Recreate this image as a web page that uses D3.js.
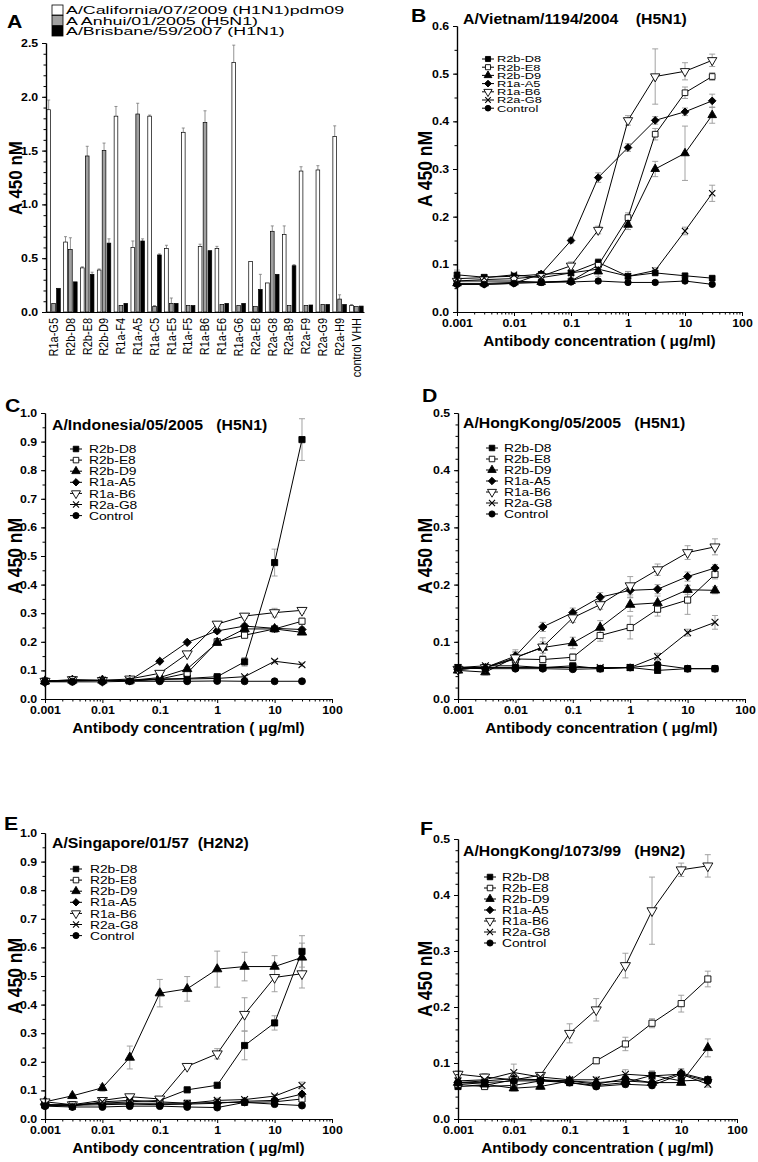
<!DOCTYPE html>
<html><head><meta charset="utf-8">
<script src="https://cdn.jsdelivr.net/npm/d3@7"></script>
<style>
body{margin:0;background:#fff}
svg{display:block}
text{font-family:"Liberation Sans",Arial,Helvetica,sans-serif;fill:#000}
</style>
</head><body>
<svg id="chart" width="758" height="1162"></svg>
<script>
// ---------- Panel A data ----------
const barCategories = ["R1a-G5","R2b-D8","R2b-E8","R2b-D9","R1a-F4","R1a-A5","R1a-C5","R1a-E5","R1a-F5","R1a-B6","R1a-E6","R1a-G6","R2a-E8","R2a-G8","R2a-B9","R2a-F9","R2a-G9","R2a-H9","control VHH"];
const barSeries = ["A/California/07/2009 (H1N1)pdm09","A Anhui/01/2005 (H5N1)","A/Brisbane/59/2007 (H1N1)"];
const barCalifornia = [1.88,0.65,0.41,0.39,1.82,0.60,1.82,0.59,1.67,0.61,0.59,2.32,0.47,0.27,0.72,1.31,1.32,1.63,0.06];
const barAnhui      = [0.08,0.58,1.45,1.50,0.06,1.84,0.05,0.08,0.06,1.76,0.07,0.06,0.05,0.75,0.06,0.06,0.07,0.12,0.05];
const barBrisbane   = [0.22,0.28,0.35,0.64,0.08,0.66,0.53,0.08,0.06,0.57,0.08,0.08,0.21,0.35,0.43,0.065,0.07,0.07,0.055];
const barCaliforniaErr = [0.09,0.05,0.01,0.01,0.09,0.06,0.01,0.03,0.04,0.02,0.02,0.16,0.0,0.0,0.08,0.04,0.04,0.10,0.01];
const barAnhuiErr      = [0.0,0.11,0.09,0.07,0.0,0.10,0.01,0.05,0.0,0.11,0.0,0.0,0.0,0.05,0.0,0.0,0.0,0.04,0.0];
const barBrisbaneErr   = [0.0,0.0,0.02,0.04,0.0,0.02,0.01,0.0,0.0,0.0,0.0,0.0,0.14,0.0,0.01,0.0,0.0,0.0,0.0];
const barTicks = [0.0,0.5,1.0,1.5,2.0,2.5];

// ---------- Dose-response data ----------
const concentrations = [0.001,0.003,0.01,0.03,0.1,0.3,1,3,10,30];
const antibodies = ["R2b-D8","R2b-E8","R2b-D9","R1a-A5","R1a-B6","R2a-G8","Control"];
const concTicks = [0.001,0.01,0.1,1,10,100];

// B: A/Vietnam/1194/2004 (H5N1)
const vietnamMeans = [
  [0.078,0.073,0.075,0.079,0.082,0.104,0.075,0.082,0.076,0.071],
  [0.065,0.065,0.065,0.062,0.065,0.098,0.198,0.373,0.460,0.494],
  [0.060,0.060,0.062,0.063,0.065,0.085,0.183,0.300,0.333,0.413],
  [0.058,0.058,0.060,0.080,0.150,0.282,0.345,0.402,0.420,0.443],
  [0.065,0.068,0.070,0.075,0.097,0.172,0.402,0.494,0.505,0.528],
  [0.070,0.072,0.078,0.072,0.082,0.090,0.075,0.087,0.170,0.249],
  [0.058,0.058,0.060,0.062,0.063,0.065,0.062,0.062,0.065,0.058]];
const vietnamErrs = [
  [0.010,0.005,0.005,0.005,0.005,0.008,0.010,0.005,0.005,0.004],
  [0.005,0.005,0.005,0.004,0.005,0.010,0.010,0.012,0.012,0.008],
  [0.004,0.004,0.004,0.004,0.005,0.010,0.010,0.016,0.057,0.017],
  [0.004,0.004,0.004,0.005,0.005,0.010,0.008,0.008,0.008,0.014],
  [0.004,0.004,0.004,0.004,0.008,0.008,0.010,0.058,0.018,0.013],
  [0.004,0.004,0.004,0.004,0.005,0.008,0.010,0.006,0.008,0.017],
  [0.004,0.004,0.004,0.004,0.004,0.004,0.004,0.004,0.004,0.004]];
const vietnamTicks = [0,0.1,0.2,0.3,0.4,0.5,0.6];

// C: A/Indonesia/05/2005 (H5N1)
const indonesiaMeans = [
  [0.062,0.065,0.065,0.065,0.070,0.072,0.078,0.130,0.477,0.907],
  [0.062,0.065,0.065,0.065,0.070,0.090,0.200,0.223,0.245,0.272],
  [0.062,0.065,0.065,0.065,0.075,0.105,0.197,0.245,0.245,0.233],
  [0.062,0.063,0.065,0.065,0.132,0.198,0.238,0.255,0.247,0.243],
  [0.062,0.068,0.065,0.070,0.090,0.158,0.262,0.290,0.302,0.310],
  [0.062,0.065,0.065,0.063,0.068,0.070,0.072,0.078,0.132,0.120],
  [0.060,0.060,0.060,0.062,0.062,0.062,0.063,0.062,0.062,0.062]];
const indonesiaErrs = [
  [0.004,0.004,0.004,0.004,0.005,0.005,0.006,0.015,0.047,0.073],
  [0.004,0.004,0.004,0.004,0.005,0.006,0.008,0.008,0.008,0.010],
  [0.004,0.004,0.004,0.004,0.005,0.006,0.008,0.008,0.008,0.008],
  [0.004,0.004,0.004,0.004,0.005,0.006,0.008,0.008,0.008,0.008],
  [0.004,0.004,0.004,0.004,0.005,0.006,0.008,0.008,0.015,0.010],
  [0.004,0.004,0.004,0.004,0.004,0.004,0.004,0.004,0.006,0.006],
  [0.003,0.003,0.003,0.003,0.003,0.003,0.003,0.003,0.003,0.003]];
const indonesiaTicks = [0,0.1,0.2,0.3,0.4,0.5,0.6,0.7,0.8,0.9,1.0];

// D: A/HongKong/05/2005 (H5N1)
const hongkongMeans = [
  [0.055,0.055,0.055,0.055,0.058,0.053,0.055,0.050,0.053,0.053],
  [0.052,0.055,0.070,0.069,0.073,0.111,0.125,0.157,0.173,0.218],
  [0.050,0.047,0.073,0.090,0.098,0.125,0.165,0.168,0.191,0.190],
  [0.052,0.055,0.075,0.126,0.151,0.178,0.190,0.192,0.214,0.229],
  [0.052,0.055,0.072,0.091,0.142,0.165,0.198,0.226,0.256,0.266],
  [0.055,0.058,0.058,0.055,0.055,0.055,0.055,0.074,0.116,0.134],
  [0.054,0.053,0.053,0.053,0.052,0.053,0.055,0.060,0.053,0.053]];
const hongkongErrs = [
  [0.004,0.004,0.003,0.003,0.003,0.003,0.003,0.003,0.003,0.003],
  [0.004,0.004,0.006,0.006,0.006,0.010,0.020,0.012,0.025,0.008],
  [0.005,0.005,0.008,0.010,0.010,0.012,0.012,0.012,0.008,0.006],
  [0.004,0.004,0.008,0.008,0.008,0.008,0.012,0.008,0.008,0.006],
  [0.004,0.004,0.014,0.016,0.008,0.008,0.016,0.010,0.012,0.014],
  [0.003,0.003,0.003,0.003,0.003,0.003,0.003,0.006,0.006,0.012],
  [0.003,0.003,0.003,0.003,0.003,0.003,0.003,0.003,0.003,0.003]];
const hongkongTicks = [0,0.1,0.2,0.3,0.4,0.5];

// E: A/Singapore/01/57 (H2N2)
const singaporeMeans = [
  [0.048,0.050,0.055,0.060,0.065,0.102,0.118,0.257,0.336,0.586],
  [0.050,0.050,0.055,0.055,0.055,0.055,0.058,0.058,0.060,0.070],
  [0.060,0.081,0.109,0.215,0.440,0.455,0.524,0.533,0.533,0.565],
  [0.048,0.048,0.050,0.052,0.050,0.052,0.055,0.062,0.065,0.087],
  [0.060,0.050,0.065,0.078,0.070,0.184,0.228,0.366,0.495,0.508],
  [0.050,0.045,0.060,0.065,0.060,0.055,0.065,0.068,0.080,0.117],
  [0.045,0.042,0.042,0.045,0.045,0.042,0.040,0.058,0.052,0.047]];
const singaporeErrs = [
  [0.005,0.005,0.005,0.005,0.005,0.006,0.008,0.050,0.025,0.055],
  [0.005,0.005,0.005,0.005,0.005,0.005,0.005,0.005,0.005,0.008],
  [0.008,0.006,0.012,0.040,0.048,0.043,0.063,0.050,0.038,0.050],
  [0.004,0.004,0.004,0.004,0.004,0.004,0.004,0.004,0.005,0.008],
  [0.006,0.005,0.006,0.006,0.006,0.008,0.018,0.058,0.050,0.050],
  [0.004,0.004,0.004,0.004,0.004,0.004,0.008,0.006,0.006,0.012],
  [0.004,0.004,0.004,0.004,0.004,0.004,0.004,0.004,0.004,0.004]];
const singaporeTicks = [0,0.1,0.2,0.3,0.4,0.5,0.6,0.7,0.8,0.9,1.0];

// F: A/HongKong/1073/99 (H9N2)
const hk1073Means = [
  [0.058,0.060,0.070,0.070,0.065,0.060,0.065,0.078,0.068,0.070],
  [0.062,0.058,0.060,0.068,0.068,0.104,0.134,0.171,0.206,0.250],
  [0.065,0.062,0.055,0.058,0.068,0.065,0.068,0.065,0.065,0.127],
  [0.065,0.068,0.072,0.070,0.068,0.062,0.072,0.065,0.082,0.070],
  [0.080,0.075,0.070,0.078,0.153,0.195,0.274,0.372,0.445,0.452],
  [0.068,0.070,0.083,0.075,0.070,0.070,0.080,0.077,0.080,0.062],
  [0.065,0.065,0.068,0.068,0.065,0.058,0.062,0.060,0.080,0.068]];
const hk1073Errs = [
  [0.005,0.005,0.006,0.005,0.005,0.005,0.005,0.008,0.006,0.005],
  [0.005,0.005,0.005,0.005,0.005,0.005,0.012,0.008,0.015,0.014],
  [0.005,0.005,0.005,0.005,0.005,0.005,0.005,0.005,0.005,0.016],
  [0.005,0.005,0.005,0.005,0.005,0.005,0.005,0.005,0.008,0.005],
  [0.006,0.006,0.006,0.005,0.017,0.020,0.022,0.060,0.012,0.020],
  [0.005,0.005,0.015,0.006,0.005,0.005,0.008,0.008,0.008,0.005],
  [0.005,0.005,0.005,0.005,0.005,0.005,0.005,0.005,0.005,0.005]];
const hk1073Ticks = [0,0.1,0.2,0.3,0.4,0.5];

// ---------- drawing ----------
const svg = d3.select("#chart");
const FONT = '"Liberation Sans",Arial,Helvetica,sans-serif';
const SX = 1.12; // horizontal stretch of the original figure's lettering

function addText(g, x, y, str, opts){
  const o = Object.assign({size:"12px", weight:"normal", anchor:"start", sx:SX, rot:0, dy:null}, opts||{});
  const t = g.append("text")
    .attr("transform", `translate(${x},${y}) scale(${o.sx},1)` + (o.rot?` rotate(${o.rot})`:""))
    .attr("font-size", o.size).attr("font-weight", o.weight).attr("text-anchor", o.anchor)
    .style("white-space","pre").text(str);
  if (o.dy) t.attr("dy", o.dy);
  return t;
}

function styleAxis(g, fs){
  g.selectAll("path.domain").attr("stroke","#000").attr("stroke-width",1.2);
  g.selectAll(".tick line").attr("stroke","#000").attr("stroke-width",1);
  g.selectAll(".tick text").attr("font-family",FONT).attr("font-weight","bold").attr("font-size",fs).attr("fill","#000");
}

// ---- Panel A ----
(function(){
  const left=46, right=364, top=43, bottom=312;
  const x = d3.scaleBand().domain(barCategories).range([left,right]).paddingInner(0.2).paddingOuter(0.05);
  const xi = d3.scaleBand().domain(barSeries).range([0,x.bandwidth()]).paddingInner(0.25);
  const y = d3.scaleLinear().domain([0,2.5]).range([bottom,top]);
  const g = svg.append("g");
  const fills = ["#ffffff","#a0a0a0","#000000"];
  const vals = [barCalifornia, barAnhui, barBrisbane];
  const errs = [barCaliforniaErr, barAnhuiErr, barBrisbaneErr];
  barSeries.forEach((s,si)=>{
    const data = barCategories.map((c,i)=>({c, v:vals[si][i], e:errs[si][i]}));
    const cx = d=>x(d.c)+xi(s)+xi.bandwidth()/2;
    g.selectAll(null).data(data.filter(d=>d.e>0)).enter().append("line")
      .attr("x1",cx).attr("x2",cx)
      .attr("y1",d=>y(d.v)).attr("y2",d=>y(d.v+d.e)).attr("stroke","#777").attr("stroke-width",0.8);
    g.selectAll(null).data(data.filter(d=>d.e>0)).enter().append("line")
      .attr("x1",d=>cx(d)-1.5).attr("x2",d=>cx(d)+1.5)
      .attr("y1",d=>y(d.v+d.e)).attr("y2",d=>y(d.v+d.e)).attr("stroke","#777").attr("stroke-width",0.8);
    g.selectAll(null).data(data).enter().append("rect")
      .attr("x",d=>x(d.c)+xi(s)).attr("width",xi.bandwidth())
      .attr("y",d=>y(d.v)).attr("height",d=>y(0)-y(d.v))
      .attr("fill",fills[si]).attr("stroke","#000").attr("stroke-width",0.7);
  });
  const ya = g.append("g").attr("transform",`translate(${left},0)`)
    .call(d3.axisLeft(y).tickValues(barTicks).tickFormat(d3.format(".1f")).tickSize(4).tickSizeOuter(0));
  styleAxis(ya,"11px");
  ya.selectAll(".tick text").attr("transform",`scale(${SX},1)`);
  const yminor = g.append("g").attr("transform",`translate(${left},0)`)
    .call(d3.axisLeft(y).tickValues(d3.range(0,26).map(i=>i/10)).tickFormat("").tickSize(2.5).tickSizeOuter(0));
  styleAxis(yminor,"0px");
  const xa = g.append("g").attr("transform",`translate(0,${bottom})`)
    .call(d3.axisBottom(x).tickSize(0).tickSizeOuter(0));
  styleAxis(xa,"11px");
  xa.selectAll(".tick text").attr("font-weight","normal").attr("transform",`scale(${SX},1) rotate(-90)`)
    .attr("text-anchor","end").attr("dx","-6px").attr("dy","0.35em").attr("y",0).attr("x",0);
  // legend
  barSeries.forEach((s,i)=>{
    g.append("rect").attr("x",52).attr("y",5+i*10.5).attr("width",11).attr("height",10)
      .attr("fill",fills[i]).attr("stroke","#000").attr("stroke-width",0.8);
    addText(g, 66, 14+i*10.5, s, {size:"11.5px", sx:1.55});
  });
  addText(g, 22, 178, "A 450 nM", {size:"17px", weight:"bold", anchor:"middle", rot:-90});
  addText(g, 7, 28, "A", {size:"19px", weight:"bold"});
})();

// ---- dose-response panels ----
const symbolDefs = [
  {type:d3.symbolSquare, size:38, fill:"#000", rot:0},
  {type:d3.symbolSquare, size:38, fill:"#fff", rot:0},
  {type:d3.symbolTriangle, size:38, fill:"#000", rot:0},
  {type:d3.symbolSquare, size:34, fill:"#000", rot:45},
  {type:d3.symbolTriangle, size:44, fill:"#fff", rot:180},
  {type:d3.symbolTimes, size:32, fill:"none", rot:0},
  {type:d3.symbolCircle, size:38, fill:"#000", rot:0}
];

function drawMarker(g, cx, cy, k, scale){
  const s = symbolDefs[k];
  g.append("path").attr("d", d3.symbol().type(s.type).size(s.size*scale)())
    .attr("transform",`translate(${cx},${cy}) rotate(${s.rot})`)
    .attr("fill",s.fill).attr("stroke","#000").attr("stroke-width",s.type===d3.symbolTimes?1.1:0.9);
}

function linePanel(cfg){
  const {x0,x1,y0,y1,ticks,means,errs,title,letter} = cfg;
  const ymax = ticks[ticks.length-1];
  const x = d3.scaleLog().domain([0.001,100]).range([x0,x1]);
  const y = d3.scaleLinear().domain([0,ymax]).range([y1,y0]);
  const g = svg.append("g");
  const ms = cfg.markerScale||1;
  // error bars
  means.forEach((ser,k)=>{
    ser.forEach((v,i)=>{
      const e = errs[k][i], cx = x(concentrations[i]);
      g.append("line").attr("x1",cx).attr("x2",cx).attr("y1",y(v-e)).attr("y2",y(v+e)).attr("stroke","#999").attr("stroke-width",0.9);
      [v-e,v+e].forEach(t=>g.append("line").attr("x1",cx-3).attr("x2",cx+3).attr("y1",y(t)).attr("y2",y(t)).attr("stroke","#999").attr("stroke-width",0.9));
    });
  });
  // lines
  const line = d3.line().x((d,i)=>x(concentrations[i])).y(d=>y(d));
  means.forEach(ser=>{
    g.append("path").attr("d",line(ser)).attr("fill","none").attr("stroke","#000").attr("stroke-width",1);
  });
  // markers
  means.forEach((ser,k)=>{
    ser.forEach((v,i)=>drawMarker(g, x(concentrations[i]), y(v), k, ms));
  });
  // axes
  const xa = g.append("g").attr("transform",`translate(0,${y1})`)
    .call(d3.axisBottom(x).tickValues(concTicks).tickFormat(d=>String(d)).tickSize(4).tickSizeOuter(0));
  styleAxis(xa,"11px");
  xa.selectAll(".tick text").attr("transform",`scale(${SX},1)`);
  const minors = [];
  [0.001,0.01,0.1,1,10].forEach(d=>{for(let m=2;m<=9;m++) minors.push(d*m);});
  const xm = g.append("g").attr("transform",`translate(0,${y1})`)
    .call(d3.axisBottom(x).tickValues(minors).tickFormat("").tickSize(2.5).tickSizeOuter(0));
  styleAxis(xm,"0px");
  const ya = g.append("g").attr("transform",`translate(${x0},0)`)
    .call(d3.axisLeft(y).tickValues(ticks).tickFormat(d3.format(".1f")).tickSize(4).tickSizeOuter(0));
  styleAxis(ya,"11px");
  ya.selectAll(".tick text").attr("transform",`scale(${SX},1)`);
  const minorStep = cfg.minorStep;
  const ymin = d3.range(0, Math.round(ymax/minorStep)+1).map(i=>i*minorStep);
  const ym = g.append("g").attr("transform",`translate(${x0},0)`)
    .call(d3.axisLeft(y).tickValues(ymin).tickFormat("").tickSize(2.5).tickSizeOuter(0));
  styleAxis(ym,"0px");
  // titles
  addText(g, cfg.titleX, cfg.titleY, title, {size:"14px", weight:"bold", sx:1.13});
  addText(g, cfg.yTitleX, (y0+y1)/2, "A 450 nM", {size:"17.5px", weight:"bold", anchor:"middle", rot:-90});
  addText(g, (x0+x1)/2, y1+34, "Antibody concentration ( \u03bcg/ml)", {size:"14px", weight:"bold", anchor:"middle", sx:1.1});
  addText(g, cfg.letterX, cfg.letterY, letter, {size:"19px", weight:"bold"});
  // legend
  antibodies.forEach((a,k)=>{
    const ly = cfg.legY + k*cfg.legDy;
    g.append("line").attr("x1",cfg.legX-6).attr("x2",cfg.legX+6).attr("y1",ly).attr("y2",ly).attr("stroke","#000").attr("stroke-width",1);
    drawMarker(g, cfg.legX, ly, k, ms*0.8);
    addText(g, cfg.legX+cfg.legGap, ly, a, {size:cfg.legFont, sx:cfg.legSx, dy:"0.36em"});
  });
}

linePanel({x0:457,x1:742,y0:26,y1:312,ticks:vietnamTicks,minorStep:0.05,means:vietnamMeans,errs:vietnamErrs,
  title:"A/Vietnam/1194/2004    (H5N1)",titleX:463,titleY:24,letter:"B",letterX:411,letterY:22,yTitleX:432,
  legX:488,legY:59,legDy:8.2,legFont:"9.5px",legSx:1.35,legGap:9,markerScale:0.85});
linePanel({x0:45,x1:332,y0:413,y1:699,ticks:indonesiaTicks,minorStep:0.05,means:indonesiaMeans,errs:indonesiaErrs,
  title:"A/Indonesia/05/2005   (H5N1)",titleX:52,titleY:430,letter:"C",letterX:5,letterY:412,yTitleX:22,
  legX:76,legY:449,legDy:11.1,legFont:"11.5px",legSx:1.2,legGap:13});
linePanel({x0:458,x1:745,y0:413,y1:699,ticks:hongkongTicks,minorStep:0.02,means:hongkongMeans,errs:hongkongErrs,
  title:"A/HongKong/05/2005   (H5N1)",titleX:463,titleY:428,letter:"D",letterX:422,letterY:402,yTitleX:432,
  legX:492,legY:448,legDy:11.0,legFont:"11.5px",legSx:1.2,legGap:12});
linePanel({x0:45,x1:332,y0:833,y1:1119,ticks:singaporeTicks,minorStep:0.05,means:singaporeMeans,errs:singaporeErrs,
  title:"A/Singapore/01/57  (H2N2)",titleX:52,titleY:848,letter:"E",letterX:4,letterY:830,yTitleX:22,
  legX:76,legY:869,legDy:11.1,legFont:"11.5px",legSx:1.2,legGap:14});
linePanel({x0:458,x1:737,y0:839,y1:1119,ticks:hk1073Ticks,minorStep:0.02,means:hk1073Means,errs:hk1073Errs,
  title:"A/HongKong/1073/99   (H9N2)",titleX:463,titleY:856,letter:"F",letterX:420,letterY:835,yTitleX:432,
  legX:490,legY:877,legDy:11.0,legFont:"11.5px",legSx:1.2,legGap:12});
</script>
</body></html>
